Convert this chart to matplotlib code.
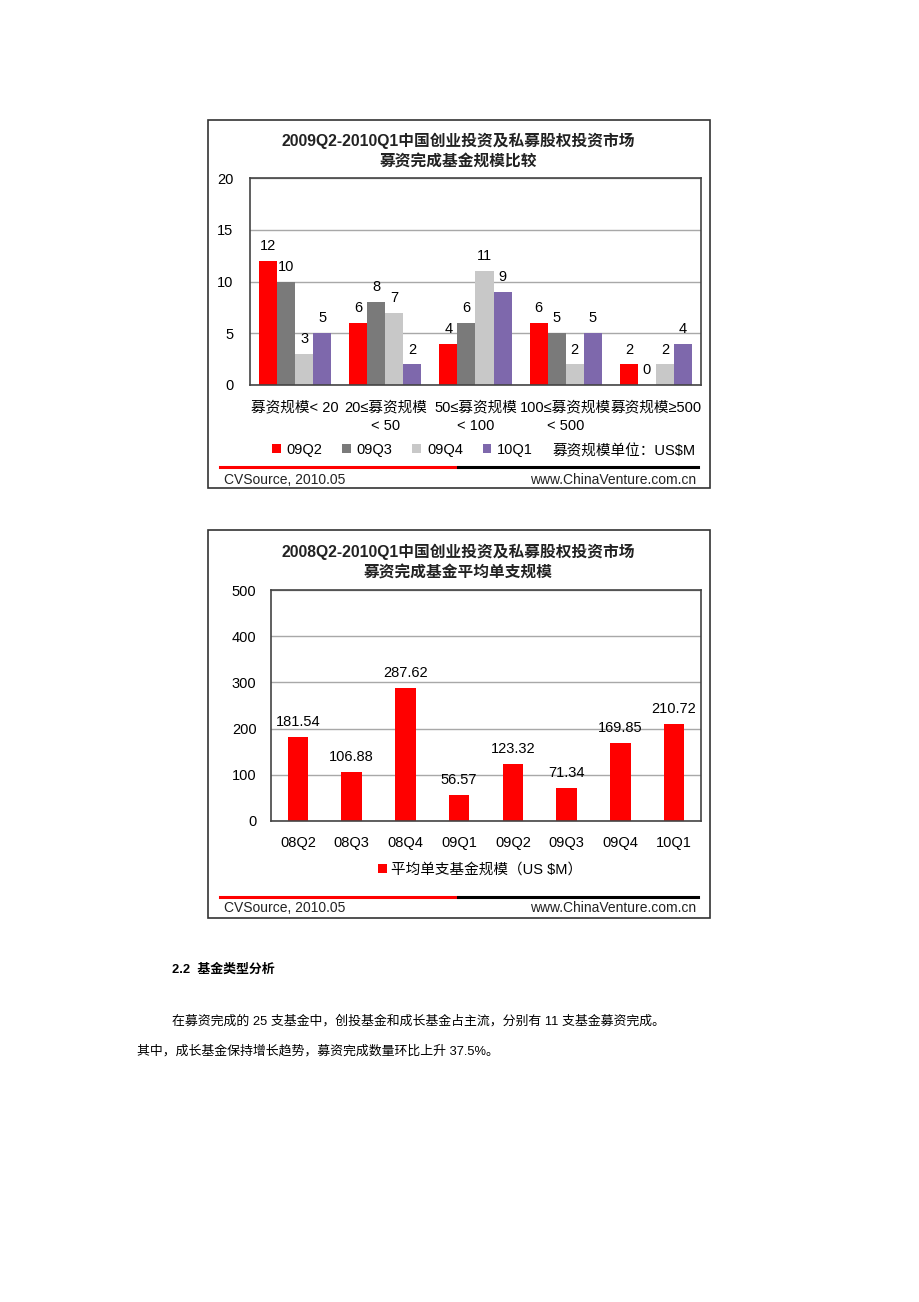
import matplotlib
matplotlib.use("Agg")
import matplotlib.pyplot as plt
from matplotlib.patches import Rectangle
from matplotlib.lines import Line2D
import numpy as np

plt.rcParams['font.family'] = ['Liberation Sans', 'Noto Sans CJK SC', 'DejaVu Sans']

W, H = 920, 1302

# -----------------------------
# Data
# -----------------------------
title1 = "2009Q2-2010Q1中国创业投资及私募股权投资市场\n募资完成基金规模比较"
size_cats = ["募资规模< 20", "20≤募资规模\n< 50", "50≤募资规模\n< 100",
             "100≤募资规模\n< 500", "募资规模≥500"]
quarters = ["09Q2", "09Q3", "09Q4", "10Q1"]
q_09q2 = [12, 6, 4, 6, 2]
q_09q3 = [10, 8, 6, 5, 0]
q_09q4 = [3, 7, 11, 2, 2]
q_10q1 = [5, 2, 9, 5, 4]
colors1 = ["#FF0000", "#7A7A7A", "#C8C8C8", "#7E68AC"]

title2 = "2008Q2-2010Q1中国创业投资及私募股权投资市场\n募资完成基金平均单支规模"
periods = ["08Q2", "08Q3", "08Q4", "09Q1", "09Q2", "09Q3", "09Q4", "10Q1"]
avg_size = [181.54, 106.88, 287.62, 56.57, 123.32, 71.34, 169.85, 210.72]
legend2 = "平均单支基金规模（US $M）"

src_left = "CVSource, 2010.05"
src_right = "www.ChinaVenture.com.cn"

fig = plt.figure(figsize=(W / 100, H / 100), dpi=100)


def fx(x):
    return x / W


def fy(y):
    return 1 - y / H


def px_axes(l, t, r, b):
    return fig.add_axes([fx(l), fy(b), (r - l) / W, (b - t) / H])


def frame(l, t, r, b, line_y, foot_y, title, title_y):
    fig.add_artist(Rectangle((fx(l), fy(b)), (r - l) / W, (b - t) / H,
                             transform=fig.transFigure, fill=False,
                             edgecolor="#333333", linewidth=1.2))
    fig.add_artist(Line2D([fx(220), fx(458)], [fy(line_y)] * 2,
                          transform=fig.transFigure, color="#FF0000", lw=2.2))
    fig.add_artist(Line2D([fx(458), fx(698)], [fy(line_y)] * 2,
                          transform=fig.transFigure, color="#000000", lw=2.2))
    fig.text(fx(224), fy(foot_y), src_left, fontsize=10, color="#222222",
             ha="left", va="center")
    fig.text(fx(696), fy(foot_y), src_right, fontsize=10, color="#222222",
             ha="right", va="center")
    fig.text(fx(458), fy(title_y), title, fontsize=11.3, fontweight="bold",
             ha="center", va="center", linespacing=1.4, color="#222222")


def style_ax(ax):
    for s in ax.spines.values():
        s.set_color("#444444")
        s.set_linewidth(1.2)
    ax.yaxis.grid(True, color="#A8A8A8", linewidth=1)
    ax.set_axisbelow(True)
    ax.tick_params(length=0, labelsize=10.5)


# -----------------------------
# Chart 1
# -----------------------------
frame(208, 120, 710, 488, 467, 480, title1, 151)
ax1 = px_axes(250, 178, 701, 385)
x = np.arange(len(size_cats))
series = [q_09q2, q_09q3, q_09q4, q_10q1]
bw = 0.2
for i, (vals, c, q) in enumerate(zip(series, colors1, quarters)):
    pos = x + (i - 1.5) * bw
    ax1.bar(pos, vals, bw, color=c, label=q, zorder=2)
    for p, v in zip(pos, vals):
        ax1.text(p, v + 0.75, str(v), ha="center", va="bottom", fontsize=10.5)
ax1.set_xlim(-0.5, len(size_cats) - 0.5)
ax1.set_ylim(0, 20)
ax1.set_yticks([0, 5, 10, 15, 20])
ax1.set_xticks(x)
ax1.set_xticklabels(size_cats, linespacing=1.45, va="top")
style_ax(ax1)
ax1.tick_params(axis="y", pad=12)
ax1.tick_params(axis="x", pad=11)
fig.legend(*ax1.get_legend_handles_labels(), loc="center left",
           bbox_to_anchor=(fx(259), fy(450)), ncol=4, frameon=False,
           fontsize=10.5, handlelength=0.6, handleheight=0.6,
           handletextpad=0.4, columnspacing=1.35)
fig.text(fx(553), fy(451), "募资规模单位：US$M", fontsize=10.5,
         ha="left", va="center")

# -----------------------------
# Chart 2
# -----------------------------
frame(208, 530, 710, 918, 897, 908, title2, 562)
ax2 = px_axes(271, 590, 701, 821)
x2 = np.arange(len(periods))
ax2.bar(x2, avg_size, 0.38, color="#FF0000", label=legend2, zorder=2)
for p, v in zip(x2, avg_size):
    ax2.text(p, v + 17, f"{v:.2f}", ha="center", va="bottom", fontsize=10.5)
ax2.set_xlim(-0.5, len(periods) - 0.5)
ax2.set_ylim(0, 500)
ax2.set_yticks(range(0, 501, 100))
ax2.set_xticks(x2)
ax2.set_xticklabels(periods)
style_ax(ax2)
ax2.tick_params(axis="y", pad=10.5)
ax2.tick_params(axis="x", pad=11)
fig.legend(*ax2.get_legend_handles_labels(), loc="center",
           bbox_to_anchor=(fx(480), fy(870)), frameon=False, fontsize=10.5,
           handlelength=0.6, handleheight=0.6, handletextpad=0.3)

# -----------------------------
# Page text
# -----------------------------
fig.text(fx(172), fy(970), "2.2  基金类型分析", fontsize=9.3, fontweight="bold",
         ha="left", va="center")
fig.text(fx(172), fy(1021),
         "在募资完成的 25 支基金中，创投基金和成长基金占主流，分别有 11 支基金募资完成。",
         fontsize=9.3, ha="left", va="center")
fig.text(fx(137), fy(1051),
         "其中，成长基金保持增长趋势，募资完成数量环比上升 37.5%。",
         fontsize=9.3, ha="left", va="center")

fig.savefig("out.png", dpi=100)
